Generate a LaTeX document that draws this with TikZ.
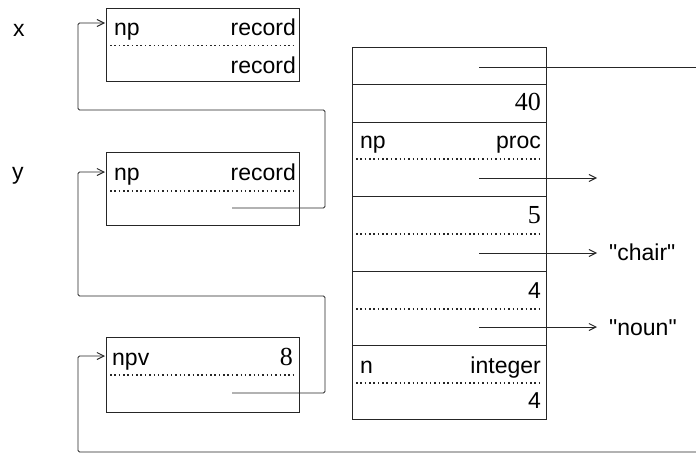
\documentclass[tikz,border=0pt]{standalone}
\usepackage{fontspec}
\setmainfont{Liberation Sans}[Ligatures=TeXOff]
\newfontfamily\numfont{Liberation Serif}
\usetikzlibrary{arrows.meta}
\begin{document}
\begin{tikzpicture}[x=1pt,y=-1pt,
  cell/.style={draw=black!85,line width=0.95pt,inner sep=0pt,outer sep=0pt,anchor=north west,rounded corners=0pt},
  dotline/.style={line width=1.5pt,dash pattern=on 1.5pt off 2.85pt,black!85},
  conn/.style={line width=0.95pt,black!85,rounded corners=1.5pt},
  ptr/.style={conn,-{Straight Barb[length=7pt,width=7pt,line width=0.95pt]}},
  lab/.style={inner sep=0pt,font=\fontsize{23}{27}\selectfont},
  num/.style={inner sep=0pt,font=\fontsize{26}{30}\selectfont\numfont}]
\useasboundingbox (0,0) rectangle (696,455);
% left boxes
\node[cell,minimum width=193pt,minimum height=73pt] (xb) at (106,8) {};
\node[cell,minimum width=193pt,minimum height=73pt] (yb) at (106,152) {};
\node[cell,minimum width=193pt,minimum height=75pt] (vb) at (106,337) {};
\draw[dotline] (110,45.5) -- (296,45.5);
\draw[dotline] (110,191) -- (296,191);
\draw[dotline] (110,375) -- (296,375);
% labels
\node[lab,anchor=base west] (xl) at (13,36) {x};
\node[lab,anchor=base west] (yl) at (12,179) {y};
\node[lab,anchor=base west] (xnp) at (114,35) {np};
\node[lab,anchor=base east] (xr1) at (296,35) {record};
\node[lab,anchor=base east] (xr2) at (296,73) {record};
\node[lab,anchor=base west] (ynp) at (114,180) {np};
\node[lab,anchor=base east] (yr1) at (296,180) {record};
\node[lab,anchor=base west] (vnp) at (112,365) {npv};
\node[num,anchor=base east] (v8) at (293,365) {8};
% right column
\node[cell,minimum width=194pt,minimum height=37pt] (r1) at (352,47) {};
\node[cell,minimum width=194pt,minimum height=38pt] (r2) at (352,84) {};
\node[cell,minimum width=194pt,minimum height=74pt] (r3) at (352,122) {};
\node[cell,minimum width=194pt,minimum height=75pt] (r4) at (352,196) {};
\node[cell,minimum width=194pt,minimum height=74pt] (r5) at (352,271) {};
\node[cell,minimum width=194pt,minimum height=74pt] (r6) at (352,345) {};
\draw[dotline] (356,159) -- (542,159);
\draw[dotline] (356,234) -- (542,234);
\draw[dotline] (356,309) -- (542,309);
\draw[dotline] (356,383) -- (542,383);
\node[num,anchor=base east] (n40) at (541,110) {40};
\node[lab,anchor=base west] (rnp) at (360,148) {np};
\node[lab,anchor=base east] (rproc) at (541,148) {proc};
\node[num,anchor=base east] (n5) at (541,223) {5};
\node[lab,anchor=base east] (n4a) at (541,298) {4};
\node[lab,anchor=base west] (rn) at (360,373) {n};
\node[lab,anchor=base east] (rint) at (541,373) {integer};
\node[lab,anchor=base east] (n4b) at (541,408) {4};
\node[lab,anchor=base west] (chair) at (609,260) {"chair"};
\node[lab,anchor=base west] (noun) at (609,335) {"noun"};
% connector coordinates
\coordinate (ys) at (232,208);
\coordinate (vs) at (232,393);
\coordinate (xin) at (105,23);
\coordinate (yin) at (105,172);
\coordinate (vin) at (105,356);
\coordinate (bot) at (696,452);
\coordinate (r1s) at (479,67);
\coordinate (r1e) at (696,67);
\coordinate (r3s) at (479,178);
\coordinate (r3e) at (597,178);
\coordinate (r4s) at (479,253);
\coordinate (r4e) at (597,253);
\coordinate (r5s) at (479,327);
\coordinate (r5e) at (597,327);
\draw[ptr] (ys) -- (325,208) -- (325,110) -- (78,110) -- (78,23) -- (xin);
\draw[ptr] (vs) -- (325,393) -- (325,296) -- (78,296) -- (78,172) -- (yin);
\draw[ptr] (bot) -- (78,452) -- (78,356) -- (vin);
\draw[conn] (r1s) -- (r1e);
\draw[ptr] (r3s) -- (r3e);
\draw[ptr] (r4s) -- (r4e);
\draw[ptr] (r5s) -- (r5e);
\end{tikzpicture}
\end{document}
